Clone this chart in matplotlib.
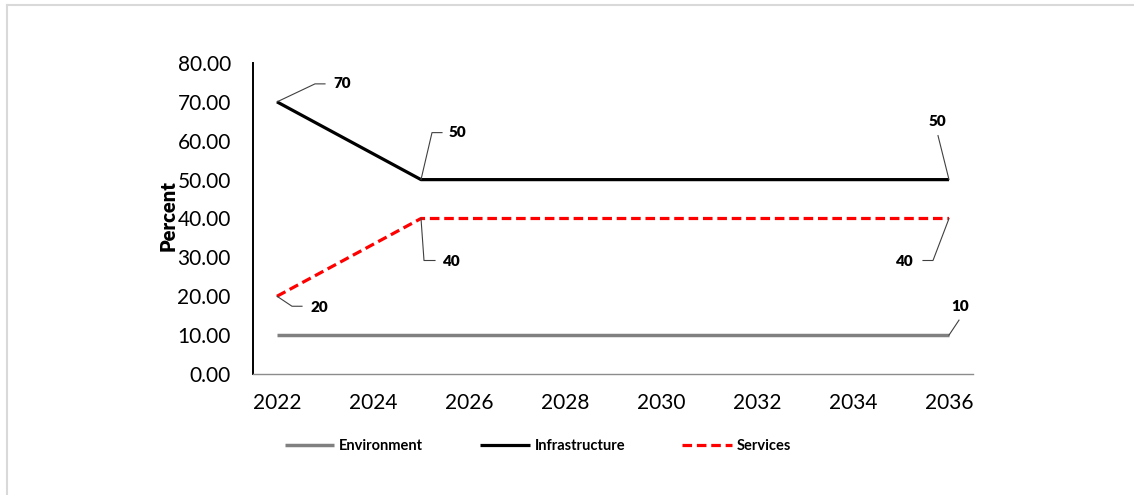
import matplotlib
matplotlib.use("Agg")
import matplotlib.pyplot as plt
from matplotlib.lines import Line2D
from matplotlib.transforms import IdentityTransform

plt.rcParams['font.family'] = ['Lato', 'DejaVu Sans']

years = [2022, 2025, 2036]
environment = [10, 10, 10]
infrastructure = [70, 50, 50]
services = [20, 40, 40]
series_names = ['Environment', 'Infrastructure', 'Services']
x_ticks = [2022, 2024, 2026, 2028, 2030, 2032, 2034, 2036]
y_ticks = [0, 10, 20, 30, 40, 50, 60, 70, 80]

W, H = 1134, 495
fig = plt.figure(figsize=(W / 100, H / 100), dpi=100)
ax = fig.add_axes([253 / W, 1 - 374 / H, (973 - 253) / W, (374 - 63) / H])

l_env, = ax.plot(years, environment, color='#808080', lw=2.5, solid_capstyle='butt')
l_inf, = ax.plot(years, infrastructure, color='#000000', lw=2.3, solid_capstyle='butt')
l_srv, = ax.plot(years, services, color='#ff0000', lw=2.3, dashes=(3, 1.5))

ax.set_xlim(2021.5, 2036.5)
ax.set_ylim(0, 80)
ax.set_xticks(x_ticks)
ax.set_xticklabels([str(t) for t in x_ticks])
ax.set_yticks(y_ticks)
ax.set_yticklabels([f"{t:.2f}" for t in y_ticks])
ax.tick_params(axis='both', length=0, labelsize=15, colors='#000000')
ax.tick_params(axis='y', pad=16)
ax.tick_params(axis='x', pad=14)
for s in ['top', 'right']:
    ax.spines[s].set_visible(False)
ax.spines['left'].set_color('#000000')
ax.spines['left'].set_linewidth(1.4)
ax.spines['bottom'].set_color('#8c8c8c')
ax.spines['bottom'].set_linewidth(1.0)

fig.text(168 / W, 1 - 216 / H, 'Percent', rotation=90, ha='center', va='center',
         fontsize=14.5, fontweight='heavy')

# data labels with leader lines: (series values, index, leader offsets px, text offset px, ha)
labels = [
    (infrastructure, 0, [(38, -18), (48, -18)], (56, -18), 'left'),
    (infrastructure, 1, [(11, -47), (21, -47)], (28, -47), 'left'),
    (infrastructure, 2, [(-11, -44)], (-12, -58), 'center'),
    (services, 0, [(15, 10), (25, 10)], (33, 11), 'left'),
    (services, 1, [(3, 42), (14, 42)], (22, 43), 'left'),
    (services, 2, [(-16, 42), (-26, 42)], (-35, 43), 'right'),
    (environment, 2, [(10, -15)], (11, -29), 'center'),
]
fig.canvas.draw()
for vals, i, pts, tpos, ha in labels:
    px, py = ax.transData.transform((years[i], vals[i]))
    xs = [px] + [px + dx for dx, dy in pts]
    ys = [py] + [py - dy for dx, dy in pts]
    fig.add_artist(Line2D(xs, ys, transform=IdentityTransform(), color='#404040', lw=0.8))
    fig.text(px + tpos[0], py - tpos[1], f"{vals[i]}", transform=IdentityTransform(),
             ha=ha, va='center', fontsize=11, fontweight='heavy')

leg = fig.legend([l_env, l_inf, l_srv], series_names, loc='center',
                 bbox_to_anchor=(538 / W, 1 - 446 / H), ncol=3, frameon=False,
                 handlelength=3.4, handletextpad=0.35, columnspacing=3.9,
                 prop={'size': 10.5, 'weight': 'bold'})

# outer border (top and left visible)
fig.add_artist(Line2D([7 / W, 7 / W], [0, 1 - 5 / H], transform=fig.transFigure,
                      color='#d9d9d9', lw=1.5))
fig.add_artist(Line2D([7 / W, 1], [1 - 5 / H, 1 - 5 / H], transform=fig.transFigure,
                      color='#d9d9d9', lw=1.5))

fig.savefig('out.png', dpi=100)
